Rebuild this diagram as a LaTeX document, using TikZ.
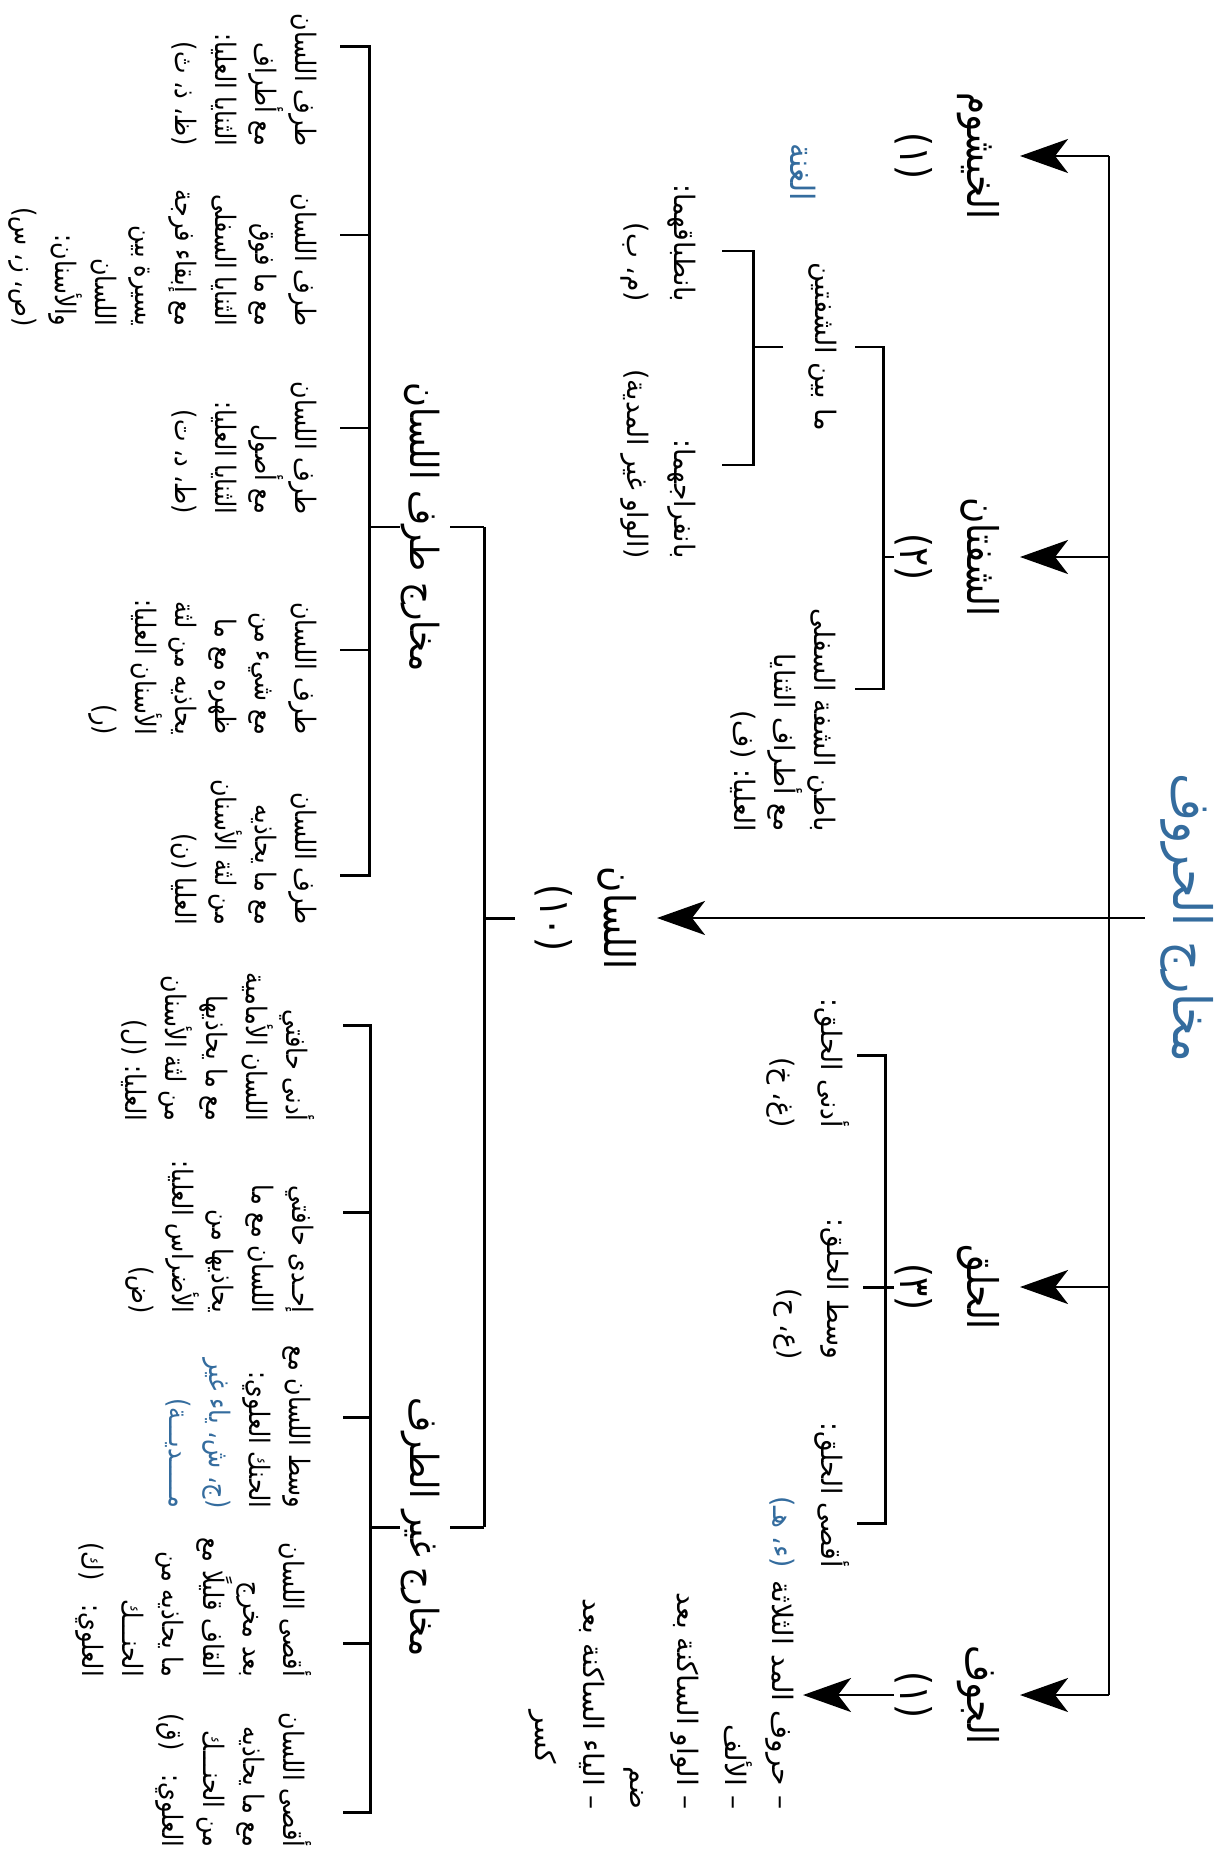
\documentclass[tikz,border=0pt]{standalone}
\usepackage{fontspec}
\newfontfamily\arabicfont[Script=Arabic]{DejaVu Sans}
\TeXXeTstate=1
\usepackage{xcolor}
\definecolor{titleblue}{RGB}{52, 108, 158}
\usetikzlibrary{arrows.meta,calc}
\newcommand{\artxt}[1]{\beginR #1\endR}

\begin{document}
\begin{tikzpicture}[x=0.01cm, y=-0.01cm,
    txt/.style={rotate=-90, inner sep=0pt, font=\arabicfont},
    title/.style={txt, xscale=0.88, text=titleblue, font=\arabicfont\fontsize{15}{18}\selectfont},
    cat/.style={txt, xscale=0.85, align=center, anchor=north, font=\arabicfont\fontsize{12}{14}\selectfont},
    subcat/.style={txt, xscale=0.88, font=\arabicfont\fontsize{11}{13}\selectfont},
    leaf/.style={txt, xscale=#1, align=right, anchor=north, font=\arabicfont\fontsize{8}{11.4}\selectfont},
    leaf/.default=0.94,
    leafwide/.style={leaf=#1, font=\arabicfont\fontsize{8}{13.5}\selectfont},
    leafwide/.default=0.94,
    brk/.style={line width=0.85pt},
    arr/.style={line width=0.7pt, -{Stealth[length=4.8mm, width=3.4mm, inset=1.3mm]}, shorten >=2mm}]

    % Page
    \fill[white] (0,0) rectangle (1228,1849);
    \useasboundingbox (0,0) rectangle (1228,1849);

    % Root and spine
    \node[title] (root) at (1187,918) {\artxt{مخارج الحروف}};
    \coordinate (sTop) at (1109,156);
    \coordinate (sBot) at (1109,1695);
    \draw[line width=0.7pt] (sTop) -- (sBot);

    % Main branches
    \node[cat] (khay) at (1000,156) {\artxt{الخيشوم}\\[5pt]\artxt{(١)}};
    \node[cat] (shaf) at (1000,557) {\artxt{الشفتان}\\[5pt]\artxt{(٢)}};
    \node[cat] (lis) at (637,918) {\artxt{اللسان}\\[4pt]\artxt{(١٠)}};
    \node[cat] (halq) at (1000,1287) {\artxt{الحلق}\\[5pt]\artxt{(٣)}};
    \node[cat] (jawf) at (1000,1695) {\artxt{الجوف}\\[5pt]\artxt{(١)}};
    \draw[arr] (sTop) -- (khay.north);
    \draw[arr] (sTop |- shaf.north) -- (shaf.north);
    \draw[arr, shorten <=1.5mm] (root.south) -- (lis.north);
    \draw[arr] (sTop |- halq.north) -- (halq.north);
    \draw[arr] (sBot) -- (jawf.north);

    \node[txt, xscale=0.9, text=titleblue, font=\arabicfont\fontsize{9.5}{11}\selectfont] (ghunna) at (803,172) {\artxt{الغنة}};

    % Lips
    \node[leaf=0.97] (mabayn) at (838,347) {\artxt{ما بين الشفتين}};
    \node[leafwide] (intibaq) at (697,243) {\artxt{بانطباقهما:}\\\artxt{(م، ب)}};
    \node[leafwide] (infiraj) at (697,464) {\artxt{بانفراجهما:}\\\artxt{(الواو غير المدية)}};
    \node[leaf] (batin) at (837,720) {\artxt{باطن الشفة السفلى}\\\artxt{مع أطراف الثنايا}\\\artxt{العليا: (ف)}};
    \draw[brk] (855,347) -| (883,689) -- (855,689);
    \draw[brk] (shaf.south) -- (883,557);
    \draw[brk] (722,251) -| (753,465) -- (722,465);
    \draw[brk, shorten <=2.5mm] (mabayn.south) -- (753,347);

    % Throat
    \node[leafwide] (adna) at (850,1063) {\artxt{أدنى الحلق:}\\\artxt{(غ، خ)}};
    \node[leafwide] (wasat) at (850,1289) {\artxt{وسط الحلق:}\\\artxt{(ع، ح)}};
    \node[leafwide] (aqsa) at (850,1495) {\artxt{أقصى الحلق:}\\\textcolor{titleblue}{\artxt{(ء، هـ)}}};
    \draw[brk] (857,1055) -| (885,1523) -- (857,1523);
    \draw[brk] (halq.south) -- (863,1287);

    % Cavity
    \node[leafwide=1] (madd) at (795,1695) {\artxt{– حروف المد الثلاثة}\\\artxt{– الألف}\\\artxt{– الواو الساكنة بعد}\\\artxt{ضم}\hspace*{1.6em}\\\artxt{– الياء الساكنة بعد}\\\artxt{كسر}\hspace*{1.6em}};
    \draw[arr, shorten >=0.8mm] (jawf.south) -- (madd.north);

    % Tongue
    \draw[brk, shorten <=2mm] (lis.south) -- (484,918);
    \draw[brk] (484,527) -- (484,1527);
    \node[subcat] (taraf) at (420,527) {\artxt{مخارج طرف اللسان}};
    \node[subcat] (ghayr) at (420,1527) {\artxt{مخارج غير الطرف}};
    \draw[brk, shorten >=1mm] (484,527) -- (taraf.north);
    \draw[brk] (taraf.south) -- (369,527);
    \draw[brk, shorten >=1mm] (484,1527) -- (ghayr.north);
    \draw[brk] (ghayr.south) -- (370,1527);

    % Tip of the tongue
    \draw[brk] (340,47) -| (369,875) -- (340,875);
    \foreach \y in {235,428,650}
        \draw[brk] (340,\y) -- (369,\y);
    \node[leaf=0.85] (t1) at (318,80) {\artxt{طرف اللسان}\\\artxt{مع أطراف}\\\artxt{الثنايا العليا:}\\\artxt{(ظ، ذ، ث)}};
    \node[leaf=0.85] (t2) at (318,258) {\artxt{طرف اللسان}\\\artxt{مع ما فوق}\\\artxt{الثنايا السفلى}\\\artxt{مع إبقاء فرجة}\\\artxt{يسيرة بين}\\\artxt{اللسان}\\\artxt{والأسنان:}\\\artxt{(ص، ز، س)}};
    \node[leaf=0.85] (t3) at (318,448) {\artxt{طرف اللسان}\\\artxt{مع أصول}\\\artxt{الثنايا العليا:}\\\artxt{(ط، د، ت)}};
    \node[leaf=0.85] (t4) at (318,667) {\artxt{طرف اللسان}\\\artxt{مع شيء من}\\\artxt{ظهره مع ما}\\\artxt{يحاذيه من لثة}\\\artxt{الأسنان العليا:}\\\artxt{(ر)}};
    \node[leaf=0.85] (t5) at (318,852) {\artxt{طرف اللسان}\\\artxt{مع ما يحاذيه}\\\artxt{من لثة الأسنان}\\\artxt{العليا (ن)}};

    % Rest of the tongue
    \draw[brk] (343,1025) -| (370,1812) -- (343,1812);
    \foreach \y in {1212,1417,1643}
        \draw[brk] (343,\y) -- (370,\y);
    \node[leaf=0.85] (g1) at (315,1047) {\artxt{أدنى حافتي}\\\artxt{اللسان الأمامية}\\\artxt{مع ما يحاذيها}\\\artxt{من لثة الأسنان}\\\artxt{العليا: (ل)}};
    \node[leaf=0.85] (g2) at (315,1237) {\artxt{إحـدى حافتي}\\\artxt{اللسان مع ما}\\\artxt{يحاذيها من}\\\artxt{الأضراس العليا:}\\\artxt{(ض)}};
    \node[leaf=0.85] (g3) at (312,1427) {\artxt{وسط اللسان مع}\\\artxt{الحنك العلوي:}\\\textcolor{titleblue}{\artxt{(ج، ش، ياء غير}}\\\textcolor{titleblue}{\artxt{مـــــديـــة)}}};
    \node[leaf=0.85] (g4) at (312,1607) {\artxt{أقصى اللسان}\\\artxt{بعد مخرج}\\\artxt{القاف قليلًا مع}\\\artxt{ما يحاذيه من}\\\artxt{الحنـــك}\\\artxt{العلوي:\quad(ك)}};
    \node[leaf=0.85] (g5) at (312,1780) {\artxt{أقصى اللسان}\\\artxt{مع ما يحاذيه}\\\artxt{من الحنـــك}\\\artxt{العلوي:\quad(ق)}};
\end{tikzpicture}
\end{document}
